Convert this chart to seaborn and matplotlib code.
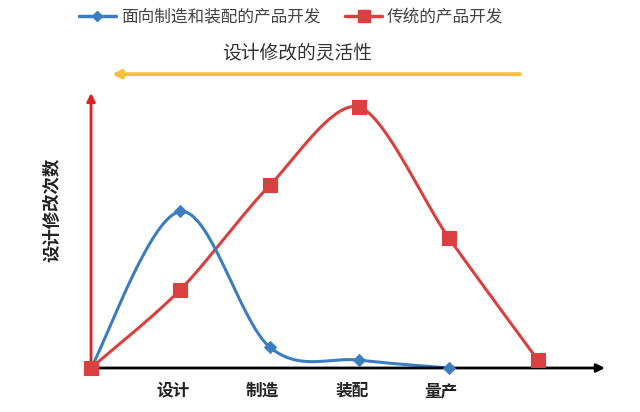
import numpy as np
import pandas as pd
import seaborn as sns
import matplotlib.pyplot as plt
from matplotlib.lines import Line2D

# 数据
stages = ['', '设计', '制造', '装配', '量产', '']
x_pos = [0, 1, 2, 3, 4, 5]
dfma_x = [0, 1, 2, 3, 4]
dfma_y = [0, 6.0, 0.8, 0.3, 0]
trad_x = [0, 1, 2, 3, 4, 5]
trad_y = [0, 3.0, 7.0, 10.0, 5.0, 0.3]

blue = '#3b7dbf'
red = '#d9403f'


def smooth(xs, ys, n=40, k=6):
    # 类似 Excel 平滑线 (Catmull-Rom -> Bezier)
    p = np.column_stack([xs, ys]).astype(float)
    p = np.vstack([p[0], p, p[-1]])
    out = []
    t = np.linspace(0, 1, n)[:, None]
    for i in range(1, len(p) - 2):
        p0, p1, p2, p3 = p[i - 1], p[i], p[i + 1], p[i + 2]
        b1 = p1 + (p2 - p0) / k
        b2 = p2 - (p3 - p1) / k
        seg = ((1 - t) ** 3) * p1 + 3 * ((1 - t) ** 2) * t * b1 + 3 * (1 - t) * t ** 2 * b2 + t ** 3 * p2
        out.append(seg)
    out = np.vstack(out)
    return out[:, 0], out[:, 1]


sns.set_theme(style='white')
plt.rcParams['font.family'] = ['Noto Sans CJK SC', 'DejaVu Sans']

fig = plt.figure(figsize=(6.4, 4.12), dpi=100)
ax = fig.add_axes([0.1422, 0.1068, 0.803, 0.6675])

sx, sy = smooth(trad_x, trad_y, k=7)
sns.lineplot(x=sx, y=sy, sort=False, color=red, lw=2.2, ax=ax, clip_on=False)
sx, sy = smooth(dfma_x, dfma_y)
sns.lineplot(x=sx, y=sy, sort=False, color=blue, lw=2.2, ax=ax, clip_on=False)

sns.scatterplot(x=dfma_x, y=dfma_y, marker='D', s=40, color=blue, edgecolor=blue, ax=ax, clip_on=False, zorder=5)
sns.scatterplot(x=trad_x, y=trad_y, marker='s', s=95, color=red, edgecolor=red, ax=ax, clip_on=False, zorder=6)

ax.set_xlim(0, 5.75)
ax.set_ylim(0, 10.54)
ax.set_xticks([v - 0.08 for v in x_pos[1:5]])
ax.set_xticklabels(stages[1:5], fontsize=12, fontweight='bold', color='#222222')
ax.set_yticks([])
ax.tick_params(axis='x', length=0, pad=10)
for s in ax.spines.values():
    s.set_visible(False)

# 坐标轴箭头
ax.annotate('', xy=(1.0, 0), xytext=(0, 0), xycoords='axes fraction',
            arrowprops=dict(arrowstyle='-|>', color='black', lw=2, mutation_scale=12, shrinkA=0, shrinkB=0))
ax.annotate('', xy=(0, 1.0), xytext=(0, 0), xycoords='axes fraction',
            arrowprops=dict(arrowstyle='-|>', color='#e02020', lw=2, mutation_scale=12, shrinkA=0, shrinkB=0))

fig.text(0.081, 0.49, '设计修改次数', rotation=90, ha='center', va='center',
         fontsize=12.5, fontweight='bold', color='#222222')

# 设计修改的灵活性
fig.text(0.464, 0.871, '设计修改的灵活性', ha='center', va='center', fontsize=13.5, color='#333333')
ax.annotate('', xy=(112 / 640, 0.82), xytext=(520 / 640, 0.82), xycoords='figure fraction',
            arrowprops=dict(arrowstyle='-|>', color='#f5c040', lw=2.8, mutation_scale=12, shrinkA=0, shrinkB=0))

handles = [
    Line2D([], [], color=blue, lw=2.5, marker='D', markersize=5),
    Line2D([], [], color=red, lw=2.5, marker='s', markersize=8),
]
fig.legend(handles, ['面向制造和装配的产品开发', '传统的产品开发'], loc='center',
           bbox_to_anchor=(0.455, 0.958), ncol=2, frameon=False, fontsize=12,
           handlelength=2.2, handletextpad=0.3, columnspacing=1.5, labelcolor='#444444')

fig.savefig('out.png', dpi=100)
